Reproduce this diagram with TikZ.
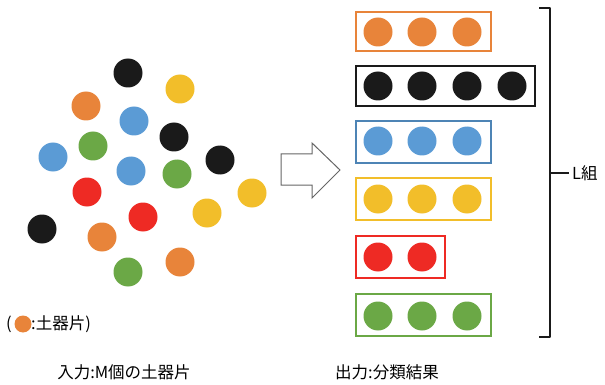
\documentclass[tikz,border=0pt]{standalone}
\usepackage{fontspec}
\setmainfont{Noto Sans CJK JP}
\definecolor{cor}{HTML}{E8843A}
\definecolor{cbk}{HTML}{1A1A1A}
\definecolor{cbl}{HTML}{5B9BD5}
\definecolor{cye}{HTML}{F2BE2A}
\definecolor{cgr}{HTML}{6BA846}
\definecolor{cre}{HTML}{EE2A24}
\begin{document}
\begin{tikzpicture}[x=1pt,y=-1pt,
  dot/.style={circle,minimum size=29pt,inner sep=0pt,fill=#1,draw=none},
  grp/.style={draw=#1,line width=1.5pt,fill=none},
  lbl/.style={font=\fontsize{16.5}{17}\selectfont,inner sep=0pt}]
\useasboundingbox (0,0) rectangle (605,385);
% input cluster
\node[dot=cbk] (d1) at (128,73) {};
\node[dot=cye] (d2) at (180,89) {};
\node[dot=cor] (d3) at (86,106) {};
\node[dot=cbl] (d4) at (134,121) {};
\node[dot=cbk] (d5) at (174,137) {};
\node[dot=cgr] (d6) at (93,146) {};
\node[dot=cbl] (d7) at (53,157) {};
\node[dot=cbk] (d8) at (220,160) {};
\node[dot=cbl] (d9) at (131,171) {};
\node[dot=cgr] (d10) at (177,174) {};
\node[dot=cye] (d11) at (252,193) {};
\node[dot=cre] (d12) at (87,192) {};
\node[dot=cre] (d13) at (143,217) {};
\node[dot=cye] (d14) at (207,213) {};
\node[dot=cbk] (d15) at (42,229) {};
\node[dot=cor] (d16) at (102,237) {};
\node[dot=cgr] (d17) at (128,272) {};
\node[dot=cor] (d18) at (180,262) {};
% legend
\node[lbl,anchor=west] (lg1) at (6,324) {(};
\node[dot=cor,minimum size=17pt] (lgd) at (23,324) {};
\node[lbl,anchor=west] (lg2) at (31,324) {:土器片)};
% arrow
\draw[draw=black!60,line width=1pt,fill=white,line join=miter]
  (281,154) -- (312,154) -- (312,143) -- (340,170) -- (312,198) -- (312,185) -- (281,185) -- cycle;
% groups
\draw[grp=cor] (356,12) rectangle (491,51);
\node[dot=cor] (o1) at (378,32) {};
\node[dot=cor] (o2) at (422,32) {};
\node[dot=cor] (o3) at (467,32) {};
\draw[grp=cbk] (356,66) rectangle (535,106);
\node[dot=cbk] (k1) at (378,86) {};
\node[dot=cbk] (k2) at (422,86) {};
\node[dot=cbk] (k3) at (467,86) {};
\node[dot=cbk] (k4) at (512,86) {};
\draw[grp=cbl!85!black] (356,121) rectangle (491,163);
\node[dot=cbl] (b1) at (378,141) {};
\node[dot=cbl] (b2) at (422,141) {};
\node[dot=cbl] (b3) at (467,141) {};
\draw[grp=cye] (356,178) rectangle (491,220);
\node[dot=cye] (y1) at (378,199) {};
\node[dot=cye] (y2) at (422,199) {};
\node[dot=cye] (y3) at (467,199) {};
\draw[grp=cre] (356,236) rectangle (445,278);
\node[dot=cre] (r1) at (378,257) {};
\node[dot=cre] (r2) at (422,257) {};
\draw[grp=cgr] (356,294) rectangle (491,336);
\node[dot=cgr] (g1) at (378,316) {};
\node[dot=cgr] (g2) at (422,316) {};
\node[dot=cgr] (g3) at (467,316) {};
% bracket
\coordinate (bt) at (539,8);
\coordinate (bb) at (539,337);
\node[lbl,anchor=west] (L) at (572,173) {L組};
\draw[cbk,line width=1.8pt,line join=round] (bt) -- (550,8) -- (550,337) -- (bb);
\draw[cbk,line width=1.8pt] (550,173) -- (569,173);
% captions
\node[lbl] (in) at (124,372) {入力:M個の土器片};
\node[lbl] (out) at (387,372) {出力:分類結果};
\end{tikzpicture}
\end{document}
